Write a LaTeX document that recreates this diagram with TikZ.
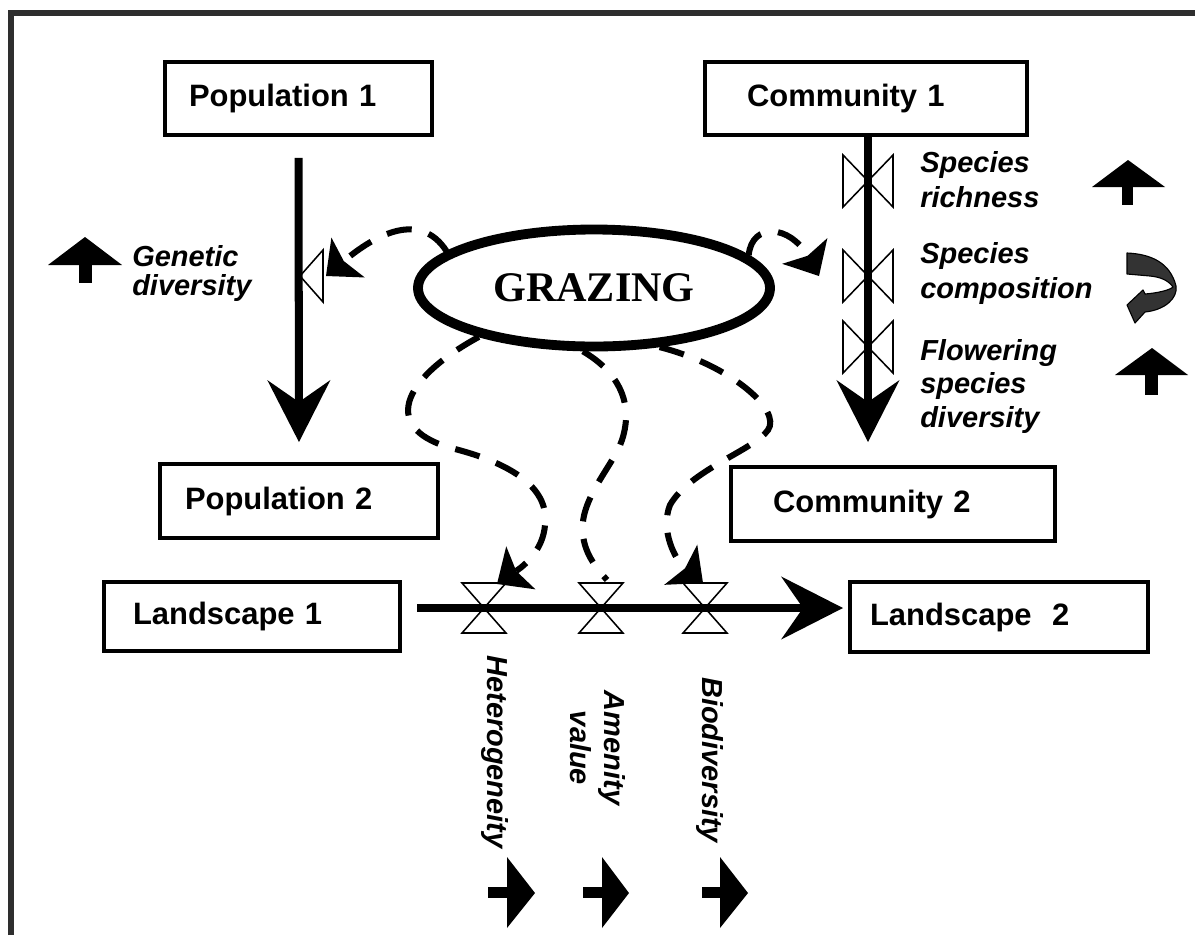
\documentclass[tikz,border=0pt]{standalone}
\usepackage{fontspec}
\setmainfont{Liberation Sans}
\newfontfamily\timesfont{Liberation Serif}
\usetikzlibrary{shapes.geometric,arrows.meta}
\newlength\upx
\setlength\upx{0.025cm}
\begin{document}
\begin{tikzpicture}[x=0.025cm, y=-0.025cm,
  box/.style={draw, line width=2.8pt, font=\fontsize{22}{26}\selectfont\bfseries, align=left, inner ysep=0pt},
  lab/.style={font=\fontsize{20.6}{24.6}\selectfont\bfseries\itshape, align=left, inner sep=0pt},
  flow/.style={line width=5.7pt, -{Stealth[length=1.55cm, width=1.58cm, inset=0.55cm, line width=0pt]}},
  infl/.style={line width=4.3pt, dash pattern=on 18pt off 12.5pt, -{Stealth[length=0.72cm, width=1.3cm, inset=0.14cm, line width=0pt]}},
  infln/.style={line width=4.3pt, dash pattern=on 18pt off 12.5pt},
  valve/.style={draw, fill=white, line width=1.1pt, line join=miter},
]
\useasboundingbox (0,0) rectangle (1195,935);
% frame
\draw[line width=4pt, color=black!82] (11,935) -- (11,13) -- (1195,13);

% boxes
\node[box, text width=219\upx, inner xsep=24\upx, minimum height=73\upx] (pop1) at (298.5,98.5) {Population 1};
\node[box, text width=238\upx, inner xsep=42\upx, minimum height=73\upx] (com1) at (866,98.5) {Community 1};
\node[box, text width=228\upx, inner xsep=25\upx, minimum height=74\upx] (pop2) at (299,501) {Population 2};
\node[box, text width=240\upx, inner xsep=42\upx, minimum height=74\upx] (com2) at (893,504) {Community 2};
\node[box, text width=238\upx, inner xsep=29\upx, minimum height=69\upx] (land1) at (252,616.5) {Landscape 1};
\node[box, text width=258\upx, inner xsep=20\upx, minimum height=70\upx] (land2) at (999,617) {Landscape\ \ 2};

% grazing
\node[ellipse, draw, line width=7pt, minimum width=352\upx, minimum height=117\upx,
  font=\timesfont\bfseries\fontsize{30}{34}\selectfont] (graz) at (594,288) {GRAZING};

% valves
\draw[valve] (300,276) -- (323,250) -- (323,302) -- cycle;
\foreach \cy in {181,276,347}
  \draw[valve] (843,\cy-26) -- (843,\cy+26) -- (868,\cy) -- cycle
               (893,\cy-26) -- (893,\cy+26) -- (868,\cy) -- cycle;
\foreach \cx in {484,601,705}
  \draw[valve] (\cx-22,583) -- (\cx+22,583) -- (\cx,608) -- cycle
               (\cx-22,633) -- (\cx+22,633) -- (\cx,608) -- cycle;

% flows
\draw[flow, shorten <=21\upx, shorten >=20\upx] (pop1.south) -- (pop2.north);
\coordinate (c1) at (868,135);
\coordinate (c2) at (868,442);
\draw[flow] (c1) -- (c2);
\coordinate (l1) at (417,608);
\coordinate (l2) at (843,608);
\draw[flow] (l1) -- (l2);

% grazing influences
\coordinate (gv) at (326,276);
\draw[infl] (graz.166) .. controls (420,210) and (375,235) .. (gv);
\coordinate (cv) at (819,276);
\draw[infl] (graz.12) .. controls (752,222) and (790,225) .. (cv);
\coordinate (hv) at (497,584);
\draw[infl] (graz.203) .. controls (400,380) and (380,430) .. (455,449)
   .. controls (505,462) and (550,485) .. (545,525)
   .. controls (543,550) and (525,565) .. (hv);
\coordinate (av) at (607,580);
\draw[infln] (graz.260) .. controls (615,370) and (635,400) .. (622,440)
   .. controls (614,465) and (578,500) .. (583,535)
   .. controls (585,555) and (598,570) .. (av);
\coordinate (bv) at (703,583);
\draw[infl] (graz.318) .. controls (730,365) and (782,410) .. (768,430)
   .. controls (754,450) and (690,470) .. (670,505)
   .. controls (660,530) and (675,560) .. (bv);

% labels (anchored at the baseline of the last line)
\node[lab, anchor=base west, font=\fontsize{20.6}{20}\selectfont\bfseries\itshape] (gen) at (132,295) {Genetic\\diversity};
\node[lab, anchor=base west] (rich) at (920,207) {Species\\richness};
\node[lab, anchor=base west] (comp) at (920,298) {Species\\composition};
\node[lab, anchor=base west, font=\fontsize{20.6}{23.8}\selectfont\bfseries\itshape] (flow) at (920,427) {Flowering\\species\\diversity};
\node[lab, rotate=-90] (het) at (495,752) {Heterogeneity};
\node[lab, rotate=-90, align=center] (amen) at (598,748) {Amenity\\value};
\node[lab, rotate=-90] (bio) at (710,760) {Biodiversity};

% change signs
\fill (48,265) -- (122,265) -- (85,237) -- cycle;
\fill (79,264) rectangle (92,283);
\fill (1092,187) -- (1165,187) -- (1128,160) -- cycle;
\fill (1122,186) rectangle (1133,205);
\fill (1115,375) -- (1188,375) -- (1152,348) -- cycle;
\fill (1145,374) rectangle (1158,395);
\foreach \s/\b/\t in {488/507/535, 583/602/629, 702/720/748} {
  \fill (\b,857) -- (\b,928) -- (\t,893) -- cycle;
  \fill (\s,887) rectangle (\b+1,898);
}
\filldraw[fill=black!80, line width=0.8pt, line join=round]
  (1127,253) .. controls (1150,254) and (1170,262) .. (1176,286)
  .. controls (1178,298) and (1165,310) .. (1145,312)
  -- (1135,323) -- (1127,305) -- (1143,290) -- (1145,294)
  .. controls (1158,293) and (1170,290) .. (1173,287)
  .. controls (1168,280) and (1160,277) .. (1150,276)
  -- (1127,274) -- cycle;
\end{tikzpicture}
\end{document}
